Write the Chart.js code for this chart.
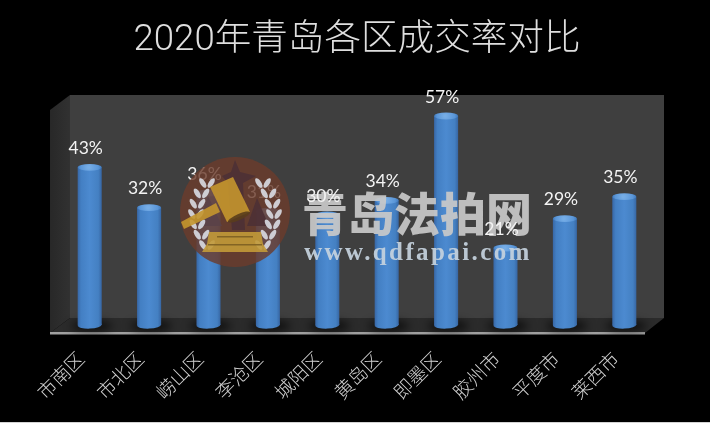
<!DOCTYPE html>
<html>
<head>
<meta charset="utf-8">
<style>
  html, body { margin: 0; padding: 0; background: #000; overflow: hidden; }
  canvas { display: block; }
</style>
<script src="https://cdn.jsdelivr.net/npm/chart.js@4"></script>
</head>
<body>
<canvas id="rateChart" width="710" height="423"></canvas>
<script>
'use strict';
const districts = ['市南区', '市北区', '崂山区', '李沧区', '城阳区', '黄岛区', '即墨区', '胶州市', '平度市', '莱西市'];
const rates = [43, 32, 36, 31, 30, 34, 57, 21, 29, 35];
const titleText = '2020年青岛各区成交率对比';
const markName = '青岛法拍网';
const markUrl = 'www.qdfapai.com';

const CJK = '"Noto Sans CJK SC", sans-serif';

function poly(ctx, pts, fill) {
  ctx.beginPath();
  pts.forEach((p, i) => (i ? ctx.lineTo(p[0], p[1]) : ctx.moveTo(p[0], p[1])));
  ctx.closePath();
  ctx.fillStyle = fill;
  ctx.fill();
}

function barGradient(ctx, x, w) {
  const g = ctx.createLinearGradient(x - w / 2, 0, x + w / 2, 0);
  g.addColorStop(0, '#3867a6');
  g.addColorStop(0.14, '#437fc3');
  g.addColorStop(0.5, '#4c8ad0');
  g.addColorStop(0.86, '#4480c2');
  g.addColorStop(1, '#3766a3');
  return g;
}

// back wall, side wall and floor of the 3d box, hung on the chart area
const boxPlugin = {
  id: 'box',
  beforeDatasetsDraw(chart) {
    const { ctx, chartArea: a } = chart;
    const back = { l: a.left + 10, r: a.right + 10, t: a.top - 10, b: a.bottom - 7 };
    const front = { l: a.left - 10, r: a.right - 9, b: a.bottom + 8 };
    ctx.save();
    poly(ctx, [[back.l, back.t], [back.r, back.t], [back.r, back.b], [back.l, back.b]], '#3f3f3f');
    const side = ctx.createLinearGradient(front.l, 0, back.l, 0);
    side.addColorStop(0, '#282828');
    side.addColorStop(1, '#313131');
    poly(ctx, [[back.l, back.t], [back.l, back.b], [front.l, front.b], [front.l, back.t + 15]], side);
    poly(ctx, [[back.l, back.b], [back.r, back.b], [front.r, front.b], [front.l, front.b]], '#2b2b2b');
    ctx.fillStyle = '#a0a0a0';
    ctx.fillRect(front.l, front.b - 1, front.r - front.l, 2.5);

    // shadow and round foot of each cylinder
    chart.getDatasetMeta(0).data.forEach(el => {
      const w = el.width;
      ctx.save();
      ctx.filter = 'blur(4px)';
      ctx.fillStyle = 'rgba(0,0,0,0.7)';
      ctx.beginPath();
      ctx.ellipse(el.x + 2, a.bottom + 1, w * 0.85, 5, 0, 0, Math.PI * 2);
      ctx.fill();
      ctx.restore();
      ctx.fillStyle = barGradient(ctx, el.x, w);
      ctx.beginPath();
      ctx.ellipse(el.x, a.bottom, w / 2, 3.6, -0.04, 0, Math.PI * 2);
      ctx.fill();
    });
    ctx.restore();
  }
};

// top caps of the cylinders, site name, then the value labels on top of it
const capsPlugin = {
  id: 'caps',
  afterDatasetsDraw(chart) {
    const ctx = chart.ctx;
    const bars = chart.getDatasetMeta(0).data;
    ctx.save();
    bars.forEach(el => {
      const g = ctx.createRadialGradient(el.x - 1, el.y, 1, el.x, el.y, el.width / 2);
      g.addColorStop(0, '#76ade6');
      g.addColorStop(0.7, '#5a96d8');
      g.addColorStop(1, '#4079bb');
      ctx.fillStyle = g;
      ctx.beginPath();
      ctx.ellipse(el.x, el.y, el.width / 2, 3.4, 0, 0, Math.PI * 2);
      ctx.fill();
    });

    ctx.textAlign = 'center';
    ctx.textBaseline = 'middle';
    ctx.globalAlpha = 0.92;
    ctx.fillStyle = '#c9c9c9';
    ctx.font = '900 46px ' + CJK;
    ctx.fillText(markName, 417, 214);
    ctx.fillStyle = '#c6d2de';
    ctx.font = 'bold 25px "Liberation Serif", serif';
    ctx.letterSpacing = '2.4px';
    ctx.fillText(markUrl, 418, 254);
    ctx.letterSpacing = '0px';
    ctx.globalAlpha = 1;

    ctx.fillStyle = '#f4f4f4';
    ctx.font = '17.5px Lato, sans-serif';
    bars.forEach((el, i) => ctx.fillText(rates[i] + '%', el.x - 4, el.y - 19));
    ctx.restore();
  }
};

function drawWreath(ctx, dir) {
  ctx.fillStyle = '#d9dbe3';
  for (let i = 0; i < 7; i++) {
    const t = i / 6;
    const y = 183 + t * 62;
    const x = 235 - dir * (28 + 11 * Math.sin(Math.PI * t));
    [-1, 1].forEach(s => {
      ctx.beginPath();
      ctx.ellipse(x + s * 4.2, y, 5.5, 2.5, -s * 1.0, 0, Math.PI * 2);
      ctx.fill();
    });
  }
}

// logo laid over the finished chart
const stampPlugin = {
  id: 'stamp',
  afterDraw(chart) {
    const ctx = chart.ctx;
    ctx.save();
    ctx.globalAlpha = 0.82;
    ctx.fillStyle = '#6b3c2c';
    ctx.beginPath();
    ctx.arc(235, 212, 55, 0, Math.PI * 2);
    ctx.fill();

    // pagoda and trees behind the gavel
    ctx.globalAlpha = 0.9;
    poly(ctx, [[235, 160], [240, 172], [256, 176], [243, 183], [245, 230], [232, 230], [228, 183], [222, 176], [231, 172]], '#4d3035');
    poly(ctx, [[257, 198], [269, 226], [247, 226]], '#4d3035');
    poly(ctx, [[208, 196], [222, 226], [198, 226]], '#5a4148');

    drawWreath(ctx, 1);
    drawWreath(ctx, -1);

    // gavel
    poly(ctx, [[181, 222], [216, 203], [220, 212], [184, 229]], '#c4962e');
    poly(ctx, [[210, 187], [233, 177], [250, 212], [227, 222]], '#c4962e');
    ctx.fillStyle = '#5a3d1c';
    ctx.beginPath();
    ctx.ellipse(239, 217, 12, 3, -0.42, 0, Math.PI * 2);
    ctx.fill();
    poly(ctx, [[209, 232], [261, 232], [263, 244], [268, 252], [202, 252], [207, 244]], '#c29a38');
    ctx.fillStyle = '#7d5f22';
    ctx.fillRect(217, 236, 36, 1.5);
    ctx.fillRect(208, 244, 54, 1.5);
    ctx.restore();

    // pale strip along the bottom edge of the picture
    ctx.fillStyle = '#d4d4d4';
    ctx.fillRect(0, 422, 710, 1);
  }
};

new Chart(document.getElementById('rateChart').getContext('2d'), {
  type: 'bar',
  data: {
    labels: districts,
    datasets: [{
      data: rates,
      borderWidth: 0,
      categoryPercentage: 1,
      barPercentage: 0.405,
      backgroundColor(c) {
        const scale = c.chart.scales.x;
        const x = scale && c.dataIndex !== undefined ? scale.getPixelForValue(c.dataIndex) : NaN;
        return Number.isFinite(x) ? barGradient(c.chart.ctx, x, 24) : '#4c8ad0';
      }
    }]
  },
  options: {
    responsive: false,
    animation: false,
    layout: { padding: { left: 60, right: 56, top: 0, bottom: 0 } },
    plugins: {
      legend: { display: false },
      tooltip: { enabled: false },
      title: {
        display: true,
        text: titleText,
        color: '#dedede',
        font: { family: 'Roboto, ' + CJK, size: 36.6, weight: '300', lineHeight: 1.2 },
        padding: { top: 18.5, bottom: 42.6 }
      }
    },
    scales: {
      x: {
        grid: { display: false },
        border: { display: false },
        afterFit(scale) { scale.height = 98; },
        ticks: {
          autoSkip: false,
          minRotation: 45,
          maxRotation: 45,
          padding: 14,
          labelOffset: -9,
          color: '#d0d0d0',
          font: { family: CJK, size: 19, weight: '300' }
        }
      },
      y: { display: false, min: 0, max: 60 }
    }
  },
  plugins: [boxPlugin, capsPlugin, stampPlugin]
});
</script>
</body>
</html>
